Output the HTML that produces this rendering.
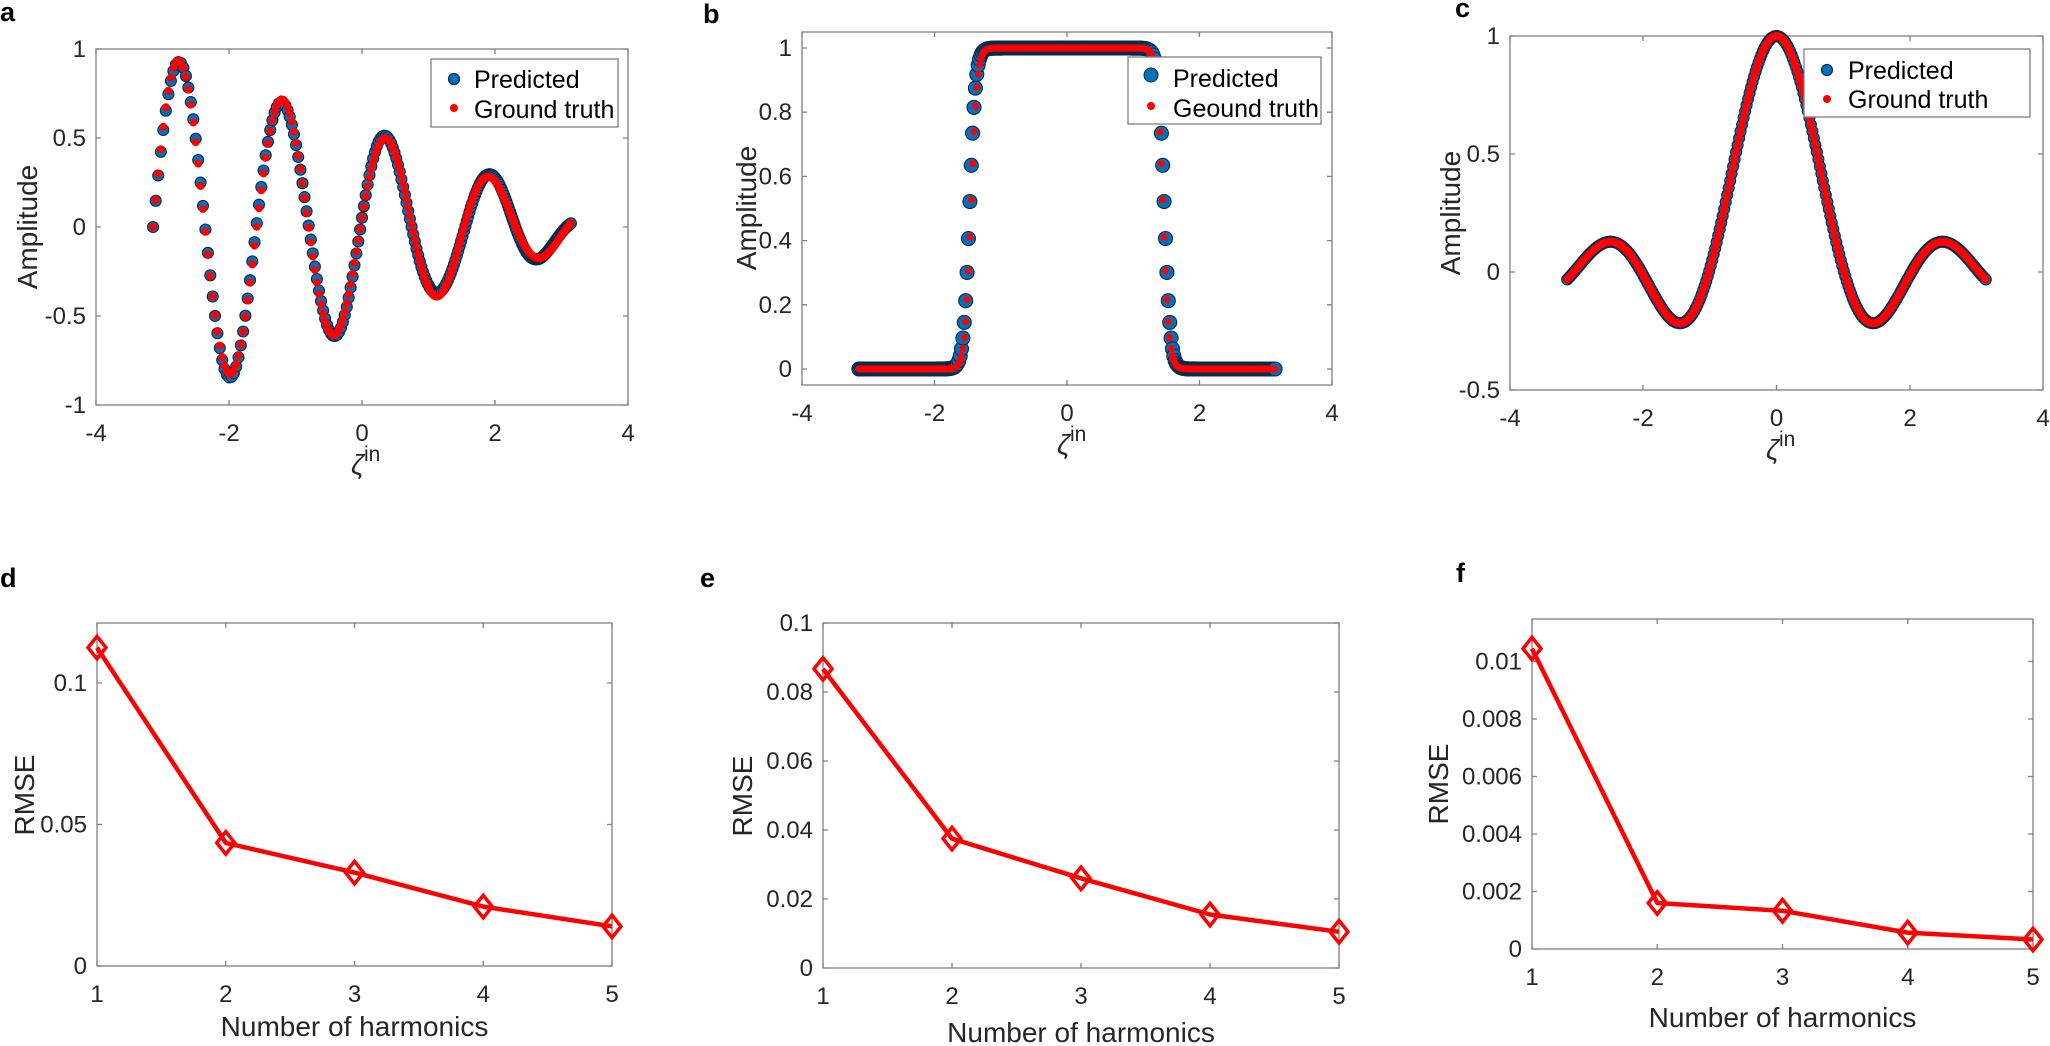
<!DOCTYPE html>
<html><head><meta charset="utf-8"><style>
html,body{margin:0;padding:0;background:#fff;}
svg{display:block;font-family:"Liberation Sans",Arial,sans-serif;}
.tk{font-size:24px;fill:#262626;}
.lb{font-size:28px;fill:#262626;}
.lg{font-size:25px;fill:#000;}
.pl{font-size:27px;font-weight:bold;fill:#000;}
.bx{fill:none;stroke:#808080;stroke-width:1.3;}
</style></head><body>
<svg id="s" width="2050" height="1046" viewBox="0 0 2050 1046" xmlns="http://www.w3.org/2000/svg">
<rect width="2050" height="1046" fill="#fff"/>
<g id="plots"></g>
<text class="pl" x="0" y="21">a</text>
<text class="pl" x="703" y="23">b</text>
<text class="pl" x="1455" y="17">c</text>
<text class="pl" x="0" y="587">d</text>
<text class="pl" x="700" y="587">e</text>
<text class="pl" x="1456" y="582">f</text>

<g class="tk" text-anchor="middle">
<text x="96" y="441">-4</text><text x="229" y="441">-2</text><text x="362" y="441">0</text><text x="495" y="441">2</text><text x="628" y="441">4</text>
<text x="802" y="421">-4</text><text x="934.5" y="421">-2</text><text x="1067" y="421">0</text><text x="1199.5" y="421">2</text><text x="1332" y="421">4</text>
<text x="1510" y="426">-4</text><text x="1643" y="426">-2</text><text x="1776.5" y="426">0</text><text x="1910" y="426">2</text><text x="2043" y="426">4</text>
<text x="97" y="1002">1</text><text x="225.75" y="1002">2</text><text x="354.5" y="1002">3</text><text x="483.25" y="1002">4</text><text x="612" y="1002">5</text>
<text x="823" y="1004">1</text><text x="952" y="1004">2</text><text x="1081" y="1004">3</text><text x="1210" y="1004">4</text><text x="1339" y="1004">5</text>
<text x="1532" y="985">1</text><text x="1657.25" y="985">2</text><text x="1782.5" y="985">3</text><text x="1907.75" y="985">4</text><text x="2033" y="985">5</text>
</g>
<g class="tk" text-anchor="end">
<text x="86" y="57">1</text><text x="86" y="146">0.5</text><text x="86" y="235">0</text><text x="86" y="324">-0.5</text><text x="86" y="413">-1</text>
<text x="792" y="377">0</text><text x="792" y="312.8">0.2</text><text x="792" y="248.6">0.4</text><text x="792" y="184.4">0.6</text><text x="792" y="120.2">0.8</text><text x="792" y="56">1</text>
<text x="1500" y="44">1</text><text x="1500" y="162">0.5</text><text x="1500" y="280">0</text><text x="1500" y="398">-0.5</text>
<text x="87" y="974">0</text><text x="87" y="832.5">0.05</text><text x="87" y="691">0.1</text>
<text x="813" y="976">0</text><text x="813" y="907">0.02</text><text x="813" y="838">0.04</text><text x="813" y="769">0.06</text><text x="813" y="700">0.08</text><text x="813" y="631">0.1</text>
<text x="1522" y="957">0</text><text x="1522" y="899.5">0.002</text><text x="1522" y="842">0.004</text><text x="1522" y="784.5">0.006</text><text x="1522" y="727">0.008</text><text x="1522" y="669.5">0.01</text>
</g>
<g class="lb" text-anchor="middle">
<text transform="translate(37,227) rotate(-90)">Amplitude</text>
<text transform="translate(756,208) rotate(-90)">Amplitude</text>
<text transform="translate(1460,213) rotate(-90)">Amplitude</text>
<text transform="translate(34,795) rotate(-90)">RMSE</text>
<text transform="translate(752,796) rotate(-90)">RMSE</text>
<text transform="translate(1448,784) rotate(-90)">RMSE</text>
<text x="354.5" y="1036">Number of harmonics</text>
<text x="1081" y="1042">Number of harmonics</text>
<text x="1782.5" y="1027">Number of harmonics</text>
</g>
<g class="lb">
<text x="351" y="474" font-style="italic">ζ<tspan dy="-13" font-size="21" font-style="normal">in</tspan></text>
<text x="1057" y="454" font-style="italic">ζ<tspan dy="-13" font-size="21" font-style="normal">in</tspan></text>
<text x="1766" y="459" font-style="italic">ζ<tspan dy="-13" font-size="21" font-style="normal">in</tspan></text>
</g>
<g id="legends">
<rect x="431" y="59" width="187" height="68" fill="#fff" stroke="#808080" stroke-width="1.3"/>
<circle cx="454" cy="79" r="5.5" fill="#0072BD" stroke="#0b2a4a" stroke-width="1.2"/>
<circle cx="454" cy="108" r="4" fill="#f00"/>
<text class="lg" x="474" y="88">Predicted</text>
<text class="lg" x="474" y="118">Ground truth</text>

<rect x="1128" y="57" width="193" height="67" fill="#fff" stroke="#808080" stroke-width="1.3"/>
<circle cx="1151" cy="75" r="7" fill="#0072BD" stroke="#0b2a4a" stroke-width="1"/>
<circle cx="1151" cy="106" r="4" fill="#f00"/>
<text class="lg" x="1173" y="87">Predicted</text>
<text class="lg" x="1173" y="117">Geound truth</text>

<rect x="1804" y="49" width="226" height="68" fill="#fff" stroke="#808080" stroke-width="1.3"/>
<circle cx="1827" cy="70" r="5.5" fill="#0072BD" stroke="#0b2a4a" stroke-width="1.2"/>
<circle cx="1827" cy="99" r="4" fill="#f00"/>
<text class="lg" x="1848" y="79">Predicted</text>
<text class="lg" x="1848" y="108">Ground truth</text>
</g>
</svg>
<script>
(function(){
var NS="http://www.w3.org/2000/svg";
var g=document.getElementById('plots');
function el(n,a){var e=document.createElementNS(NS,n);for(var k in a)e.setAttribute(k,a[k]);g.appendChild(e);return e;}
function axes(L,R,T,B,xt,yt){
  el('rect',{x:L,y:T,width:R-L,height:B-T,'class':'bx'});
  var d='';
  xt.forEach(function(x){d+='M'+x+' '+B+'v-5M'+x+' '+T+'v5';});
  yt.forEach(function(y){d+='M'+L+' '+y+'h5M'+R+' '+y+'h-5';});
  el('path',{d:d,stroke:'#808080','stroke-width':1.3,fill:'none'});
}
function scatter(L,R,T,B,x0,x1,y0,y1,pts,rb,rr){
  function X(x){return L+(x-x0)/(x1-x0)*(R-L);}
  function Y(y){return B-(y-y0)/(y1-y0)*(B-T);}
  pts.forEach(function(p){el('circle',{cx:X(p[0]).toFixed(1),cy:Y(p[2]).toFixed(1),r:rb,fill:'#0072BD',stroke:'#0b2a4a','stroke-width':1.1});});
  pts.forEach(function(p){el('circle',{cx:X(p[0]).toFixed(1),cy:Y(p[1]).toFixed(1),r:rr,fill:'#f00'});});
}
var PI=Math.PI,i,u,x,y,pts;
axes(96,628,49,405,[96,229,362,495,628],[49,138,227,316,405]);
pts=[];var N=260;
for(i=0;i<=N;i++){u=i/N;x=-PI+2*PI*(0.6*(1-(1-u)*(1-u))+0.4*u);
 y=(0.55-0.14*x)*Math.sin(4.03*(x+PI));pts.push([x,y,y+0.02*Math.sin(7*x)]);}
scatter(96,628,49,405,-4,4,-1,1,pts,5.5,4);
axes(802,1332,32,385,[802,934.5,1067,1199.5,1332],[369,304.8,240.6,176.4,112.2,48]);
pts=[];N=300;
for(i=0;i<=N;i++){x=-PI+2*PI*i/N;
 y=1/(1+Math.exp(-(x+1.45)/0.045))*1/(1+Math.exp((x-1.45)/0.045));
 var yp=1/(1+Math.exp(-(x+1.47)/0.045))*1/(1+Math.exp((x-1.47)/0.045));
 pts.push([x,y,yp]);}
scatter(802,1332,32,385,-4,4,-0.05,1.05,pts,7,3.5);
axes(1510,2043,36,390,[1510,1643,1776.5,1910,2043],[36,154,272,390]);
pts=[];N=280;
for(i=0;i<=N;i++){x=-PI+2*PI*i/N;var t=3.1*x;y=Math.abs(t)<1e-6?1:Math.sin(t)/t;pts.push([x,y,y]);}
scatter(1510,2043,36,390,-4,4,-0.5,1,pts,5.5,4);
function lp(L,R,T,B,ymax,vals,yt){
  axes(L,R,T,B,[0,1,2,3,4].map(function(k){return L+k*(R-L)/4;}),yt);
  var P=vals.map(function(v,k){return [L+k*(R-L)/4,B-v/ymax*(B-T)];});
  el('polyline',{points:P.map(function(p){return p[0].toFixed(1)+','+p[1].toFixed(1);}).join(' '),fill:'none',stroke:'#f00','stroke-width':4.5,'stroke-linejoin':'round'});
  P.forEach(function(p){var s=9;el('path',{d:'M'+p[0]+' '+(p[1]-s*1.25)+'L'+(p[0]+s)+' '+p[1]+'L'+p[0]+' '+(p[1]+s*1.25)+'L'+(p[0]-s)+' '+p[1]+'Z',fill:'none',stroke:'#f00','stroke-width':3.5});});
}
lp(97,612,623,966,0.1212,[0.1125,0.0435,0.033,0.021,0.014],[966,824.5,683]);
lp(823,1339,623,968,0.1,[0.0867,0.0375,0.026,0.0155,0.0105],[968,899,830,761,692,623]);
lp(1532,2033,619,949,0.01148,[0.01045,0.0016,0.00133,0.00057,0.00033],[949,891.5,834,776.5,719,661.5]);
var s=document.getElementById('s');s.appendChild(document.getElementById('legends'));
})();
</script>
</body></html>
